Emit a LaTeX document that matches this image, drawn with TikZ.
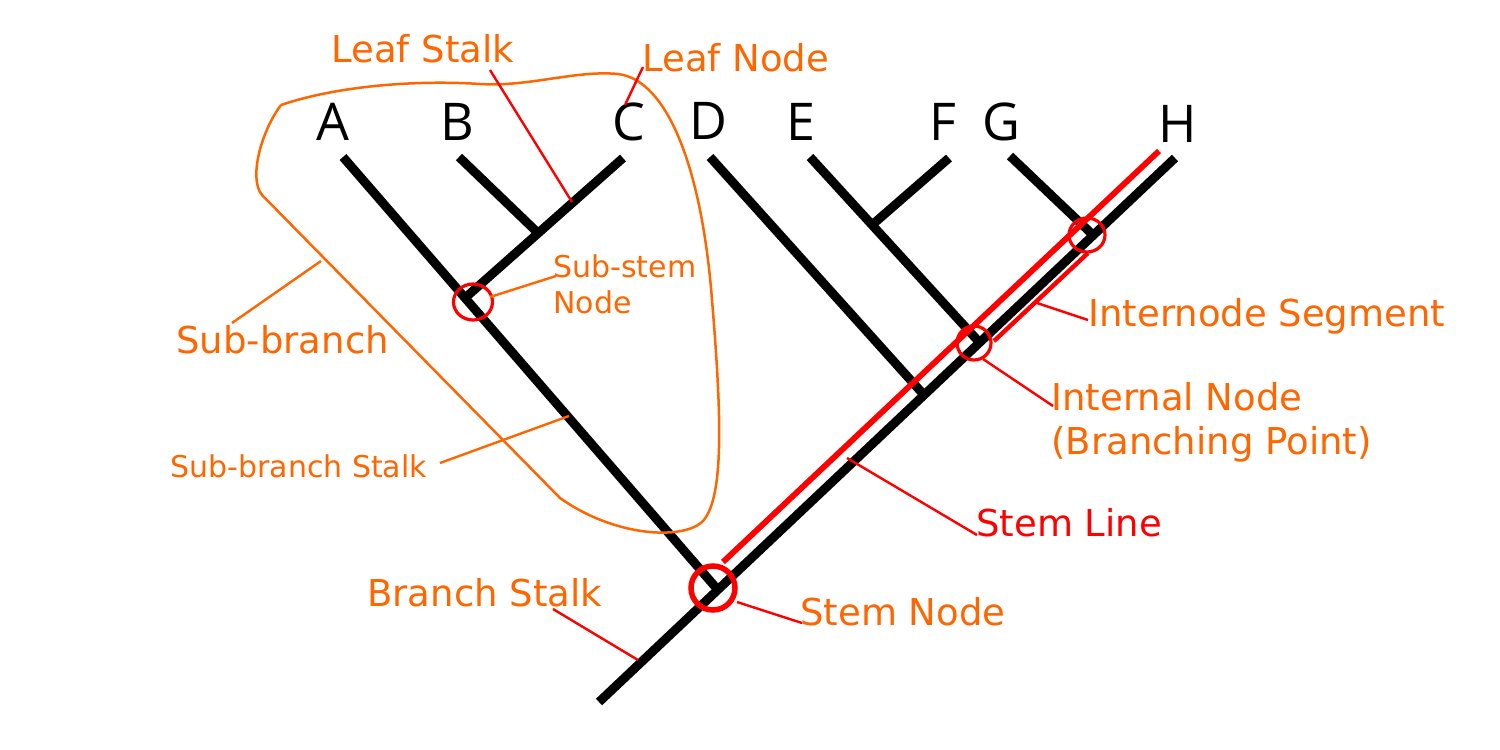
\documentclass[tikz,border=0pt]{standalone}
\usepackage{fontspec}
\setmainfont{DejaVu Sans}
\newfontfamily\tipfont{Open Sans}
\usetikzlibrary{shapes.geometric}
\definecolor{lblorange}{RGB}{255,102,0}
\definecolor{lblred}{RGB}{255,0,0}

\begin{document}
\begin{tikzpicture}[x=0.5pt,y=-0.5pt,
  branch/.style={line width=4.5pt},
  tip/.style={font=\tipfont\fontsize{26}{26}\selectfont,inner sep=0pt},
  biglbl/.style={text=lblorange,font=\fontsize{18.5}{22}\selectfont,inner sep=0pt,align=left},
  smalllbl/.style={text=lblorange,font=\fontsize{15}{18}\selectfont,inner sep=0pt,align=left},
  leadred/.style={draw=lblred,line width=1.2pt},
  leadorange/.style={draw=lblorange,line width=1.2pt},
  ring/.style={ellipse,draw=lblred,inner sep=0pt},
]
\useasboundingbox (0,0) rectangle (1500,750);

% Tree points
\coordinate (root) at (599,702);
\coordinate (tipH) at (1175,158);
\coordinate (jA) at (718,590);
\coordinate (jsub) at (465,298);
\coordinate (jB) at (538,233);
\coordinate (jD) at (924,395);
\coordinate (jE) at (980,343);
\coordinate (jF) at (872,225);
\coordinate (jG) at (1093,235);
\coordinate (tipA) at (343,157);
\coordinate (tipB) at (459,157);
\coordinate (tipC) at (623,158);
\coordinate (tipD) at (710,157);
\coordinate (tipE) at (810,157);
\coordinate (tipF) at (949,158);
\coordinate (tipG) at (1010,156);

% Leaf Nodes
\node[tip] (A) at (333,122) {A};
\node[tip] (B) at (457,122) {B};
\node[tip] (C) at (629,122) {C};
\node[tip] (D) at (708,121) {D};
\node[tip] (E) at (801,122) {E};
\node[tip] (F) at (943,122) {F};
\node[tip] (G) at (1001,122) {G};
\node[tip] (H) at (1178,124) {H};

% Branches
\draw[branch] (root) -- (tipH);
\draw[branch] (jA) -- (tipA);
\draw[branch] (jsub) -- (tipC);
\draw[branch] (jB) -- (tipB);
\draw[branch] (jD) -- (tipD);
\draw[branch] (jE) -- (tipE);
\draw[branch] (jF) -- (tipF);
\draw[branch] (jG) -- (tipG);

% Stem Line and Internode Segment
\coordinate (stemlo) at (723,562);
\coordinate (stemhi) at (1159,151);
\draw[draw=lblred,line width=2.9pt] (stemlo) -- (stemhi);
\coordinate (seglo) at (994,341);
\coordinate (seghi) at (1088,253);
\draw[draw=lblred,line width=2.2pt] (seglo) -- (seghi);

% Rings
\node[ring,line width=2.75pt,minimum width=22pt,minimum height=22pt] (stemring) at (713,588) {};
\node[ring,line width=1.6pt,minimum width=19.5pt,minimum height=18pt] (subring) at (473,302) {};
\node[ring,line width=1.6pt,minimum width=17pt,minimum height=17pt] (intring) at (974,343) {};
\node[ring,line width=1.6pt,minimum width=18pt,minimum height=17pt] (gring) at (1087,235) {};

% Sub-branch outline
\draw[draw=lblorange,line width=1.25pt] (281,105) .. controls (340,85) and (420,80) .. (480,84)
  .. controls (530,87) and (575,70) .. (618,74)
  .. controls (668,80) and (702,170) .. (712,300)
  .. controls (722,420) and (724,500) .. (702,522)
  .. controls (682,540) and (615,537) .. (560,498)
  -- (262,195) .. controls (248,178) and (262,130) .. (281,105);

% Text Node
\node[biglbl,anchor=base west] (lstalk) at (331,62) {Leaf Stalk};
\node[biglbl,anchor=base west] (lnode) at (642,71) {Leaf Node};
\node[smalllbl,anchor=west] (substem) at (553,284) {Sub-stem\\Node};
\node[biglbl,anchor=base west] (subbranch) at (176,353) {Sub-branch};
\node[smalllbl,anchor=base west] (subbstalk) at (170,477) {Sub-branch Stalk};
\node[biglbl,anchor=base west] (intseg) at (1088,326) {Internode Segment};
\node[biglbl,anchor=west] (intnode) at (1051,422) {Internal Node\\(Branching Point)};
\node[biglbl,anchor=base west,text=lblred] (stemline) at (976,536) {Stem Line};
\node[biglbl,anchor=base west] (bstalk) at (367,606) {Branch Stalk};
\node[biglbl,anchor=base west] (stemnode) at (800,625) {Stem Node};

% Leaders
\coordinate (lstalk-foot) at (490,70);
\coordinate (lstalk-tip) at (572,202);
\draw[leadred] (lstalk-foot) -- (lstalk-tip);
\coordinate (lnode-foot) at (643,67);
\coordinate (lnode-tip) at (625,105);
\draw[leadred] (lnode-foot) -- (lnode-tip);
\coordinate (substem-foot) at (556,276);
\coordinate (substem-tip) at (490,297);
\draw[leadorange] (substem-foot) -- (substem-tip);
\coordinate (subbranch-foot) at (232,323);
\coordinate (subbranch-tip) at (321,261);
\draw[leadorange] (subbranch-foot) -- (subbranch-tip);
\coordinate (subbstalk-foot) at (440,463);
\coordinate (subbstalk-tip) at (569,416);
\draw[leadorange] (subbstalk-foot) -- (subbstalk-tip);
\coordinate (intseg-foot) at (1088,320);
\coordinate (intseg-tip) at (1037,303);
\draw[leadred] (intseg-foot) -- (intseg-tip);
\coordinate (intnode-foot) at (1053,406);
\coordinate (intnode-tip) at (983,359);
\draw[leadred] (intnode-foot) -- (intnode-tip);
\coordinate (stemline-foot) at (977,535);
\coordinate (stemline-tip) at (847,458);
\draw[leadred] (stemline-foot) -- (stemline-tip);
\coordinate (stemnode-foot) at (802,623);
\coordinate (stemnode-tip) at (737,602);
\draw[leadred] (stemnode-foot) -- (stemnode-tip);
\coordinate (bstalk-foot) at (553,609);
\coordinate (bstalk-tip) at (638,660);
\draw[leadred] (bstalk-foot) -- (bstalk-tip);

\end{tikzpicture}
\end{document}
